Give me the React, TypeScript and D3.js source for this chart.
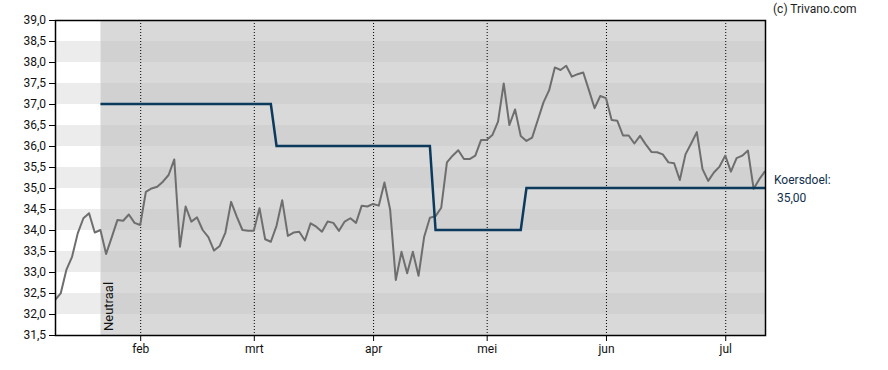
import * as d3 from "d3";
import { useEffect, useRef } from "react";

// daily closes (trading days)
const prices = [
  32.33, 32.49, 33.05, 33.36, 33.92, 34.28, 34.4, 33.94, 34.0, 33.43,
  33.83, 34.24, 34.22, 34.37, 34.17, 34.12, 34.91, 34.99, 35.03, 35.15,
  35.31, 35.68, 33.6, 34.56, 34.2, 34.3, 34.0, 33.83, 33.51, 33.62,
  33.94, 34.67, 34.32, 34.0, 33.98, 33.98, 34.52, 33.78, 33.72, 34.1,
  34.71, 33.86, 33.94, 33.96, 33.75, 34.16, 34.08, 33.96, 34.2, 34.17,
  33.98, 34.2, 34.28, 34.17, 34.58, 34.56, 34.62, 34.58, 35.13, 34.49,
  32.81, 33.48, 32.97, 33.48, 32.91, 33.84, 34.29, 34.33, 34.53, 35.61,
  35.77, 35.9, 35.69, 35.69, 35.77, 36.14, 36.14, 36.26, 36.58, 37.49,
  36.5, 36.87, 36.24, 36.12, 36.2, 36.62, 37.04, 37.33, 37.87, 37.81,
  37.91, 37.65, 37.71, 37.75, 37.33, 36.9, 37.19, 37.14, 36.62, 36.6,
  36.25, 36.25, 36.06, 36.24, 36.04, 35.86, 35.85, 35.8, 35.61, 35.59,
  35.19, 35.8, 36.06, 36.33, 35.45, 35.17, 35.37, 35.51, 35.77, 35.39,
  35.71, 35.77, 35.89, 34.98, 35.21, 35.4,
];

const monthLabels = ["feb", "mrt", "apr", "mei", "jun", "jul"];
const monthIdx = [15, 35, 56, 76, 97, 118];

const targetIdx = [8, 38, 39, 66, 67, 82, 83, 125];
const targetVal = [37, 37, 36, 36, 34, 34, 35, 35];

const yTicks = [31.5, 32, 32.5, 33, 33.5, 34, 34.5, 35, 35.5, 36, 36.5, 37, 37.5, 38, 38.5, 39];

const neutralStart = 8;
const neutralLabel = "Neutraal";
const targetLabel = "Koersdoel:";
const targetText = "35,00";
const copyright = "(c) Trivano.com";

const W = 888, H = 370;
const m = { left: 55, right: 765, top: 20, bottom: 335 };

export default function App() {
  const ref = useRef<SVGSVGElement>(null);

  useEffect(() => {
    const svg = d3.select(ref.current);
    svg.selectAll("*").remove();

    const x = d3.scaleLinear().domain([0, prices.length - 1]).range([m.left, m.right]);
    const y = d3.scaleLinear().domain([31.5, 39]).range([m.bottom, m.top]);
    const fmt = (v: number) => d3.format(".1f")(v).replace(".", ",");

    // background bands
    const bands = yTicks.slice(0, -1);
    const bg = svg.append("g");
    bands.forEach((v, i) => {
      const odd = (bands.length - 1 - i) % 2 === 1;
      bg.append("rect")
        .attr("x", m.left).attr("y", y(v + 0.5))
        .attr("width", x(neutralStart) - m.left).attr("height", y(v) - y(v + 0.5))
        .attr("fill", odd ? "#ececec" : "#ffffff");
      bg.append("rect")
        .attr("x", x(neutralStart)).attr("y", y(v + 0.5))
        .attr("width", m.right - x(neutralStart)).attr("height", y(v) - y(v + 0.5))
        .attr("fill", odd ? "#d1d1d1" : "#d9d9d9");
    });

    // neutral label
    svg.append("text")
      .attr("transform", `translate(${x(neutralStart) + 13},${m.bottom - 4}) rotate(-90)`)
      .attr("font-family", "Roboto, sans-serif")
      .attr("font-size", 13)
      .attr("fill", "#111")
      .text(neutralLabel);

    // month grid
    svg.append("g")
      .selectAll("line")
      .data(monthIdx)
      .join("line")
      .attr("x1", d => x(d) + 0.5).attr("x2", d => x(d) + 0.5)
      .attr("y1", m.top).attr("y2", m.bottom)
      .attr("stroke", "#000")
      .attr("stroke-dasharray", "1,2");

    svg.append("defs").append("clipPath").attr("id", "plot-clip")
      .append("rect")
      .attr("x", m.left).attr("y", m.top)
      .attr("width", m.right - m.left).attr("height", m.bottom - m.top);

    // price line
    svg.append("path")
      .datum(prices)
      .attr("clip-path", "url(#plot-clip)")
      .attr("fill", "none")
      .attr("stroke", "#6e6e6e")
      .attr("stroke-width", 2)
      .attr("stroke-linejoin", "round")
      .attr("d", d3.line<number>().x((_, i) => x(i)).y(d => y(d)));

    // target line
    svg.append("path")
      .datum(targetIdx)
      .attr("fill", "none")
      .attr("stroke", "#0b3a5c")
      .attr("stroke-width", 2.5)
      .attr("d", d3.line<number>().x(d => x(d)).y((_, i) => y(targetVal[i])));

    // axes
    const yAxis = svg.append("g")
      .attr("transform", `translate(${m.left},0)`)
      .call(d3.axisLeft(y).tickValues(yTicks).tickFormat(d => fmt(+d)).tickSizeOuter(0));
    const xAxis = svg.append("g")
      .attr("transform", `translate(0,${m.bottom})`)
      .call(d3.axisBottom(x).tickValues(monthIdx).tickFormat((_, i) => monthLabels[i]).tickSizeOuter(0));
    [yAxis, xAxis].forEach(a => {
      a.select(".domain").remove();
      a.selectAll("text")
        .attr("font-family", "Roboto, sans-serif")
        .attr("font-size", 12)
        .attr("fill", "#111");
    });

    // frame
    svg.append("rect")
      .attr("x", m.left + 0.5).attr("y", m.top + 0.5)
      .attr("width", m.right - m.left).attr("height", m.bottom - m.top)
      .attr("fill", "none")
      .attr("stroke", "#000")
      .attr("stroke-width", 1.5);

    // target label
    svg.append("text")
      .attr("x", m.right + 9).attr("y", 184)
      .attr("font-family", "Roboto, sans-serif")
      .attr("font-size", 12)
      .attr("fill", "#0f2f4d")
      .text(targetLabel);
    svg.append("text")
      .attr("x", m.right + 12).attr("y", 202)
      .attr("font-family", "Roboto, sans-serif")
      .attr("font-size", 12)
      .attr("fill", "#0f2f4d")
      .text(targetText);

    svg.append("text")
      .attr("x", 773).attr("y", 12.5)
      .attr("font-family", "Roboto, sans-serif")
      .attr("font-size", 12)
      .attr("fill", "#222")
      .text(copyright);
  }, []);

  return (
    <svg
      ref={ref}
      width={W}
      height={H}
      style={{ position: "absolute", left: 0, top: 0, background: "#fff" }}
    />
  );
}
